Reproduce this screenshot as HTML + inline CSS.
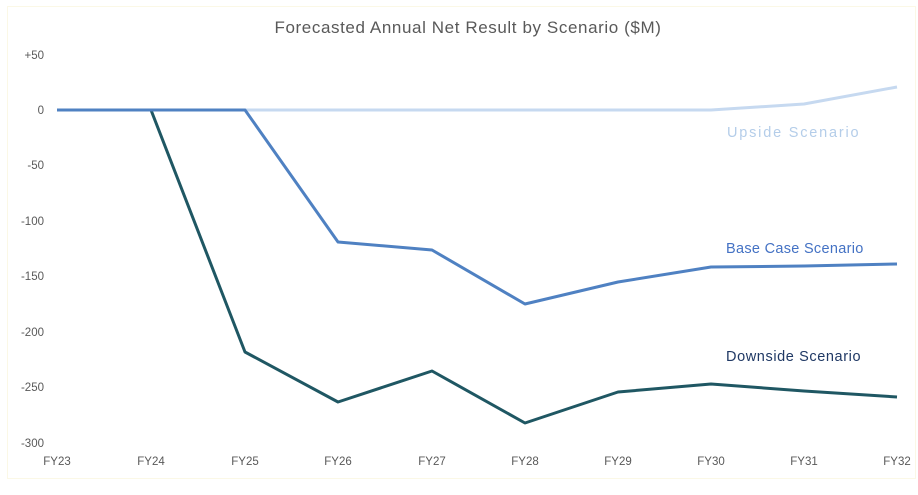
<!DOCTYPE html>
<html><head><style>
body{margin:0;background:#fff;}
svg text{font-family:"Liberation Sans",sans-serif;}
</style></head><body>
<svg width="918" height="490" viewBox="0 0 918 490" xmlns="http://www.w3.org/2000/svg">
<rect x="7.5" y="6.5" width="908" height="472" fill="#fff" stroke="#fbf8e6" stroke-width="1"/>
<text x="468" y="33" text-anchor="middle" font-size="17" letter-spacing="0.6" fill="#595959">Forecasted Annual Net Result by Scenario ($M)</text>
<g font-size="11.5" fill="#595959" text-anchor="end">
<text x="44" y="59">+50</text>
<text x="44" y="114">0</text>
<text x="44" y="169">-50</text>
<text x="44" y="225">-100</text>
<text x="44" y="280">-150</text>
<text x="44" y="336">-200</text>
<text x="44" y="391">-250</text>
<text x="44" y="447">-300</text>
</g>
<g font-size="11.5" fill="#595959" text-anchor="middle">
<text x="57" y="465">FY23</text><text x="151" y="465">FY24</text><text x="245" y="465">FY25</text>
<text x="338" y="465">FY26</text><text x="432" y="465">FY27</text><text x="525" y="465">FY28</text>
<text x="618" y="465">FY29</text><text x="711" y="465">FY30</text><text x="804" y="465">FY31</text>
<text x="897" y="465">FY32</text>
</g>
<g fill="none" stroke-width="3" stroke-linejoin="round">
<polyline stroke="#c6d9f0" points="57,110 151,110 245,110 338,110 432,110 525,110 618,110 711,110 804,104 897,87"/>
<polyline stroke="#1f5763" points="57,110 151,110 245,352 338,402 432,371 525,423 618,392 711,384 804,391 897,397"/>
<polyline stroke="#4f81c2" points="57,110 151,110 245,110 338,242 432,250 525,304 618,282 711,267 804,266 897,264"/>
</g>
<text x="727" y="137" font-size="14.5" letter-spacing="1.8" fill="#b4cde9">Upside Scenario</text>
<text x="726" y="253" font-size="14.5" letter-spacing="0.3" fill="#4472c4">Base Case Scenario</text>
<text x="726" y="361" font-size="14.5" letter-spacing="0.6" fill="#1f3864">Downside Scenario</text>
</svg>
</body></html>
